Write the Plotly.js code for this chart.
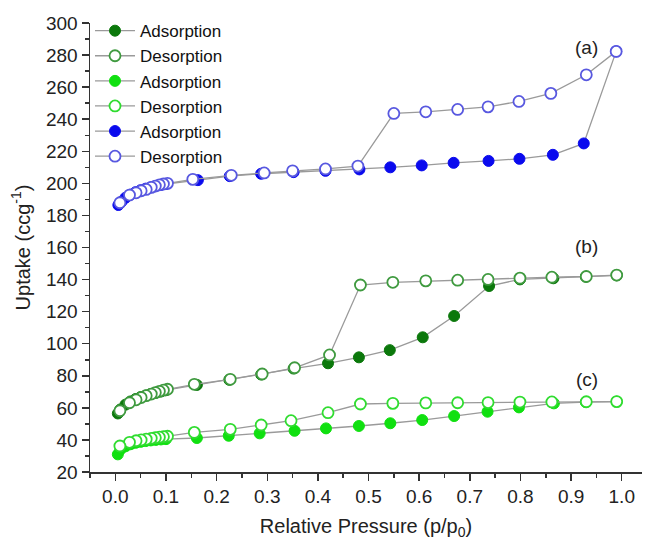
<!DOCTYPE html>
<html>
<head>
<meta charset="utf-8">
<script src="https://cdn.plot.ly/plotly-3.0.1.min.js"></script>
<style>html,body{margin:0;padding:0;background:#fff;}#chart{width:645px;height:546px;}</style>
</head>
<body>
<div id="chart"></div>
<script>
// (b) dark green
const bAdsX = [0.005,0.01,0.02,0.03,0.04,0.05,0.06,0.07,0.08,0.09,0.1,0.161,0.225,0.288,0.352,0.420,0.481,0.542,0.607,0.669,0.738,0.799,0.865,0.929,0.99];
const bAdsY = [56.5,59,62,64,65.5,66.7,67.7,68.6,69.4,70.2,71,74.3,77.5,80.8,84.5,87.8,91.5,96,104,117.3,136,140.1,140.8,141.8,142.6];
const bDesX = [0.99,0.930,0.862,0.799,0.736,0.676,0.613,0.548,0.484,0.423,0.354,0.290,0.227,0.156,0.103,0.095,0.087,0.079,0.071,0.061,0.051,0.041,0.028,0.009];
const bDesY = [142.8,141.9,141.5,140.9,140.1,139.6,139.2,138.3,136.6,93,85,81.1,77.8,74.7,71.6,71,70.3,69.5,68.6,67.6,66.4,65,63.2,58.2];
// (c) bright green
const cAdsX = [0.005,0.01,0.02,0.03,0.04,0.05,0.06,0.07,0.08,0.09,0.1,0.161,0.224,0.285,0.354,0.416,0.481,0.543,0.606,0.669,0.735,0.797,0.866,0.929,0.99];
const cAdsY = [31,34,36,37.3,38.2,38.8,39.3,39.7,40,40.3,40.5,41.2,42.6,44.1,45.7,47.2,48.7,50.4,52.4,54.9,57.6,60.3,62.8,63.6,63.9];
const cDesX = [0.99,0.930,0.862,0.799,0.736,0.676,0.613,0.548,0.484,0.420,0.347,0.288,0.227,0.156,0.103,0.095,0.087,0.079,0.071,0.061,0.051,0.041,0.028,0.009];
const cDesY = [63.9,63.8,63.7,63.6,63.3,63.2,63.1,62.8,62.4,57,52,49.3,46.6,44.7,42.3,42,41.7,41.4,41,40.5,40,39.5,38.5,36.2];
// (a) blue
const aAdsX = [0.006,0.012,0.02,0.03,0.04,0.05,0.06,0.07,0.08,0.09,0.1,0.163,0.226,0.288,0.352,0.415,0.482,0.543,0.605,0.668,0.737,0.798,0.864,0.925,0.989];
const aAdsY = [186.5,188.5,191,193,194.5,195.7,196.7,197.5,198.3,199,199.6,202,204.5,206,207,207.8,208.7,210,211.2,212.8,214,215.3,217.8,224.9,282.3];
const aDesX = [0.989,0.930,0.860,0.797,0.736,0.676,0.613,0.550,0.479,0.415,0.350,0.294,0.229,0.153,0.103,0.095,0.087,0.079,0.071,0.061,0.051,0.041,0.028,0.009];
const aDesY = [282.3,267.7,256.1,251.1,247.7,246.1,244.6,243.6,210.8,209,207.8,206.5,205,202.5,200,199.6,199.1,198.3,197.5,196.2,195.4,194.1,192.7,187.9];

const seriesNames = ['Adsorption','Desorption','Adsorption','Desorption','Adsorption','Desorption'];
const panelLabels = ['(a)','(b)','(c)'];
const panelLabelX = [0.931,0.931,0.931];
const panelLabelY = [285,160.5,77.5];

const lineCol = '#9a9a9a';
function filled(x,y,name,col){
  return {x:x,y:y,name:name,type:'scatter',mode:'lines+markers',
    line:{color:lineCol,width:1.3},
    marker:{symbol:'circle',size:11,color:col,line:{color:col,width:1}}};
}
function open(x,y,name,col){
  return {x:x,y:y,name:name,type:'scatter',mode:'lines+markers',
    line:{color:lineCol,width:1.3},
    marker:{symbol:'circle',size:11,color:'#ffffff',line:{color:col,width:1.8}}};
}
const data = [
  filled(bAdsX,bAdsY,seriesNames[0],'#0b780b'),
  open(bDesX,bDesY,seriesNames[1],'#3f9a3f'),
  filled(cAdsX,cAdsY,seriesNames[2],'#10e010'),
  open(cDesX,cDesY,seriesNames[3],'#30dc30'),
  filled(aAdsX,aAdsY,seriesNames[4],'#0a0aee'),
  open(aDesX,aDesY,seriesNames[5],'#5858e0')
];
const tickFont = {family:'Liberation Sans, Arial, sans-serif',size:19,color:'#222'};
const layout = {
  width:645,height:546,
  margin:{l:90,r:3,t:23,b:74},
  paper_bgcolor:'#fff',plot_bgcolor:'#fff',
  font:{family:'Liberation Sans, Arial, sans-serif',color:'#222'},
  showlegend:true,
  legend:{x:0.0,y:1.022,xanchor:'left',yanchor:'top',bgcolor:'rgba(0,0,0,0)',
    font:{family:'Liberation Sans, Arial, sans-serif',size:17,color:'#111'},
    itemwidth:40,tracegroupgap:0},
  xaxis:{range:[-0.05,1.04],tick0:0,dtick:0.1,tickformat:'.1f',
    showgrid:false,zeroline:false,showline:true,linecolor:'#333',linewidth:1.5,
    ticks:'outside',ticklen:7,tickwidth:1.5,tickcolor:'#333',tickfont:tickFont,
    minor:{dtick:0.05,tick0:0,ticks:'outside',ticklen:4,tickwidth:1.5,tickcolor:'#333'},
    title:{text:'Relative Pressure (p/p<sub>0</sub>)',font:{size:20,color:'#222'},standoff:12}},
  yaxis:{range:[20,300],tick0:20,dtick:20,
    showgrid:false,zeroline:false,showline:true,linecolor:'#333',linewidth:1.5,
    ticks:'outside',ticklen:7,tickwidth:1.5,tickcolor:'#333',tickfont:tickFont,
    minor:{dtick:10,tick0:20,ticks:'outside',ticklen:4,tickwidth:1.5,tickcolor:'#333'},
    title:{text:'Uptake (ccg<sup>-1</sup>)',font:{size:20,color:'#222'},standoff:10}},
  annotations: panelLabels.map((t,i)=>({x:panelLabelX[i],y:panelLabelY[i],xref:'x',yref:'y',text:t,showarrow:false,
    font:{family:'Liberation Sans, Arial, sans-serif',size:19,color:'#222'}}))
};
Plotly.newPlot('chart',data,layout,{displayModeBar:false,staticPlot:true});
</script>
</body>
</html>
